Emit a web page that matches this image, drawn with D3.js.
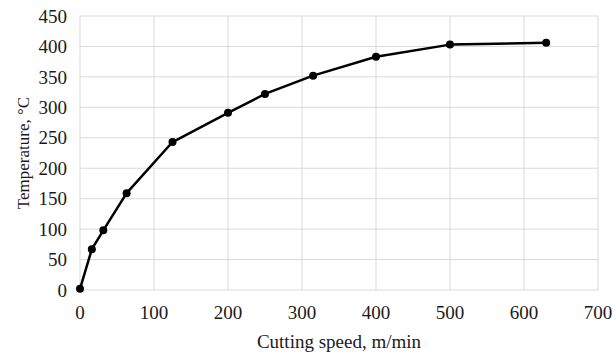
<!DOCTYPE html>
<html>
<head>
<meta charset="utf-8">
<script src="https://cdn.jsdelivr.net/npm/d3@7"></script>
<style>
  body { margin: 0; background: #fff; }
  text { font-family: "Liberation Serif", "Times New Roman", serif; fill: #1a1a1a; }
</style>
</head>
<body>
<svg id="chart" width="616" height="354"></svg>
<script>
const speeds = [0, 16, 31.5, 63, 125, 200, 250, 315, 400, 500, 630];
const temps = [2, 67, 98, 159, 243, 291, 322, 352, 383, 403, 406];
const xTicks = [0, 100, 200, 300, 400, 500, 600, 700];
const yTicks = [0, 50, 100, 150, 200, 250, 300, 350, 400, 450];

const svg = d3.select('#chart');
const margin = {left: 80, right: 18, top: 16, bottom: 64};
const width = 616, height = 354;

const x = d3.scaleLinear().domain([0, 700]).range([margin.left, width - margin.right]);
const y = d3.scaleLinear().domain([0, 450]).range([height - margin.bottom, margin.top]);

// gridlines
svg.append('g')
  .selectAll('line')
  .data(xTicks)
  .enter().append('line')
  .attr('x1', d => x(d)).attr('x2', d => x(d))
  .attr('y1', y(0)).attr('y2', y(450))
  .style('stroke', '#d9d9d9').style('stroke-width', 1);

svg.append('g')
  .selectAll('line')
  .data(yTicks)
  .enter().append('line')
  .attr('x1', x(0)).attr('x2', x(700))
  .attr('y1', d => y(d)).attr('y2', d => y(d))
  .style('stroke', '#d9d9d9').style('stroke-width', 1);

// tick labels
svg.append('g')
  .selectAll('text')
  .data(yTicks)
  .enter().append('text')
  .attr('x', x(0) - 13)
  .attr('y', d => y(d))
  .attr('dy', '0.35em')
  .attr('text-anchor', 'end')
  .style('font-size', '19px')
  .text(d => d);

svg.append('g')
  .selectAll('text')
  .data(xTicks)
  .enter().append('text')
  .attr('x', d => x(d))
  .attr('y', y(0) + 29)
  .attr('text-anchor', 'middle')
  .style('font-size', '19px')
  .text(d => d);

// axis titles
svg.append('text')
  .attr('x', (x(0) + x(700)) / 2)
  .attr('y', 348)
  .attr('text-anchor', 'middle')
  .style('font-size', '19px')
  .text('Cutting speed, m/min');

svg.append('text')
  .attr('transform', 'translate(29,' + ((y(0) + y(450)) / 2) + ') rotate(-90)')
  .attr('text-anchor', 'middle')
  .style('font-size', '17px')
  .text('Temperature, °C');

// series
const pts = speeds.map((s, i) => [s, temps[i]]);

svg.append('path')
  .datum(pts)
  .attr('d', d3.line().x(d => x(d[0])).y(d => y(d[1])))
  .style('fill', 'none')
  .style('stroke', '#000')
  .style('stroke-width', 2.5)
  .style('stroke-linejoin', 'round');

svg.append('g')
  .selectAll('circle')
  .data(pts)
  .enter().append('circle')
  .attr('cx', d => x(d[0]))
  .attr('cy', d => y(d[1]))
  .attr('r', 4)
  .style('fill', '#000');
</script>
</body>
</html>
